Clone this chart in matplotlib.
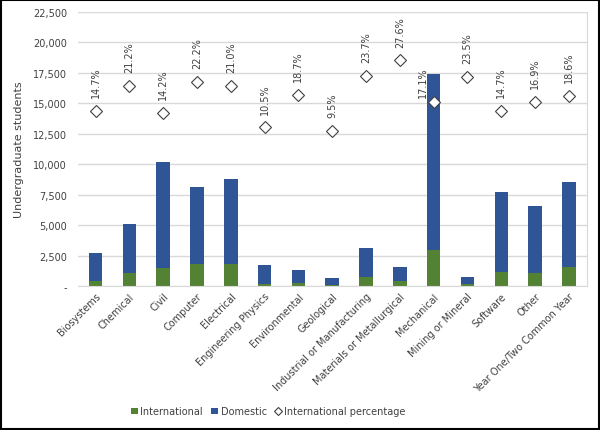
import matplotlib.pyplot as plt
from matplotlib.patches import Rectangle
from matplotlib.ticker import FuncFormatter
import numpy as np

categories = [
    "Biosystems", "Chemical", "Civil", "Computer", "Electrical",
    "Engineering Physics", "Environmental", "Geological",
    "Industrial or Manufacturing", "Materials or Metallurgical",
    "Mechanical", "Mining or Mineral", "Software", "Other",
    "Year One/Two Common Year",
]
international = [400, 1080, 1450, 1800, 1850, 185, 245, 60, 735, 425,
                 2975, 170, 1130, 1110, 1590]
domestic = [2300, 4020, 8750, 6300, 6950, 1565, 1055, 570, 2360, 1110,
            14425, 545, 6560, 5460, 6970]
intl_pct = [14.7, 21.2, 14.2, 22.2, 21.0, 10.5, 18.7, 9.5, 23.7, 27.6,
            17.1, 23.5, 14.7, 16.9, 18.6]

GREEN = "#548235"
BLUE = "#2F5597"
TEXT = "#404040"
GRID = "#D9D9D9"

plt.rcParams["font.family"] = "DejaVu Sans"
plt.rcParams["font.size"] = 7

fig = plt.figure(figsize=(6, 4.31), dpi=100)
ax = fig.add_axes([0.13, 0.334, 0.848, 0.636])

x = np.arange(len(categories))
ax.bar(x, international, width=0.4, color=GREEN, label="International", zorder=2)
ax.bar(x, domestic, width=0.4, bottom=international, color=BLUE,
       label="Domestic", zorder=2)

ax.set_xlim(-0.52, 14.53)
ax.set_ylim(0, 22500)
ax.set_yticks(np.arange(0, 22501, 2500))
ax.yaxis.set_major_formatter(
    FuncFormatter(lambda v, p: "-" if v == 0 else f"{v:,.0f}"))
ax.grid(axis="y", color=GRID, linewidth=1, zorder=0)
ax.set_axisbelow(True)
ax.tick_params(axis="both", length=0, colors=TEXT, labelsize=7)
ax.tick_params(axis="y", pad=8)
ax.set_xticks(x)
ax.set_xticklabels(categories, rotation=45, ha="right", rotation_mode="anchor")
ax.set_ylabel("Undergraduate students", color=TEXT, fontsize=8, labelpad=6)
for side in ["top", "left"]:
    ax.spines[side].set_visible(False)
ax.spines["bottom"].set_color(GRID)
ax.spines["right"].set_color(GRID)

# pourcentages sur un axe secondaire caché
ax2 = ax.twinx()
ax2.set_ylim(-30, 40)
ax2.axis("off")
ax2.plot(x, intl_pct, linestyle="none", marker="D", markersize=6.5,
         markerfacecolor="white", markeredgecolor="#404040",
         markeredgewidth=0.8, label="International percentage", zorder=3)
for i, p in enumerate(intl_pct):
    if categories[i] == "Mechanical":
        off = (-8, 3)
    else:
        off = (0, 10)
    ax2.annotate(f"{p:.1f}%", (x[i], p), xytext=off, textcoords="offset points",
                 rotation=90, ha="center", va="bottom", fontsize=7, color=TEXT)

h1, l1 = ax.get_legend_handles_labels()
h2, l2 = ax2.get_legend_handles_labels()
fig.legend(h1 + h2, l1 + l2, loc="center", bbox_to_anchor=(0.447, 0.043),
           ncol=3, frameon=False, fontsize=7, handlelength=0.7,
           handleheight=0.7, handletextpad=0.3, columnspacing=0.8,
           labelcolor=TEXT, markerscale=0.6)

fig.add_artist(Rectangle((0.002, 0.002), 0.996, 0.995, transform=fig.transFigure,
                         fill=False, edgecolor="black", linewidth=1.5))

plt.savefig("out.png", dpi=100)
